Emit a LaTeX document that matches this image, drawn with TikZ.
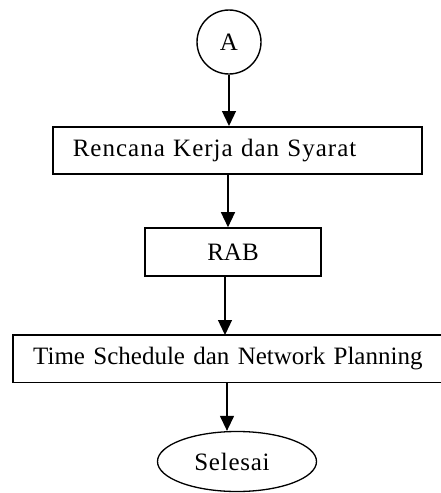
\documentclass[tikz,border=0pt]{standalone}
\usepackage{fontspec}
\setmainfont{Liberation Serif}
\usetikzlibrary{arrows.meta,shapes.geometric}
\begin{document}
\begin{tikzpicture}[x=1pt,y=1pt,
  arr/.style={line width=1.3pt,-{Triangle[width=14pt,length=15pt]}},
  boxline/.style={line width=1.6pt},
  txt/.style={font=\fontsize{25}{29}\selectfont}]
\useasboundingbox (0,0) rectangle (440,-493);
% start connector
\node[draw,circle,line width=1.4pt,minimum size=64pt,inner sep=0pt,txt] (A) at (229,-42) {A};
% box 1
\node[draw,boxline,rectangle,anchor=north west,minimum width=369pt,minimum height=47pt,
  inner xsep=20pt,inner ysep=0pt,text width=329pt,align=left,txt] (r1) at (52,-126)
  {\addfontfeature{LetterSpace=4}Rencana Kerja dan Syarat};
% RAB
\node[draw,boxline,rectangle,minimum width=176pt,minimum height=48pt,inner sep=0pt,txt] (rab) at (233,-252) {RAB};
% box 3 (open on the right)
\node[rectangle,anchor=north west,minimum width=427pt,minimum height=47pt,
  inner xsep=20pt,inner ysep=0pt,text width=390pt,align=left,txt] (r3) at (13,-335)
  {Time Schedule dan Network Planning};
\draw[boxline] (r3.north east) -- (r3.north west) -- (r3.south west) -- (r3.south east);
% end
\node[draw,ellipse,line width=1.3pt,minimum width=159pt,minimum height=60pt,inner sep=0pt,txt] (e) at (237,-461.5)
  {\addfontfeature{LetterSpace=3}Selesai\kern10pt};
% connectors
\coordinate (c1) at (228,0);
\coordinate (c2) at (225,0);
\coordinate (c3) at (227,0);
\draw[arr] (A) -- (A |- r1.north);
\draw[arr] (r1.south -| c1) -- (rab.north -| c1);
\draw[arr] (rab.south -| c2) -- (r3.north -| c2);
\draw[arr] (r3.south -| c3) -- (e.north -| c3);
\end{tikzpicture}
\end{document}
